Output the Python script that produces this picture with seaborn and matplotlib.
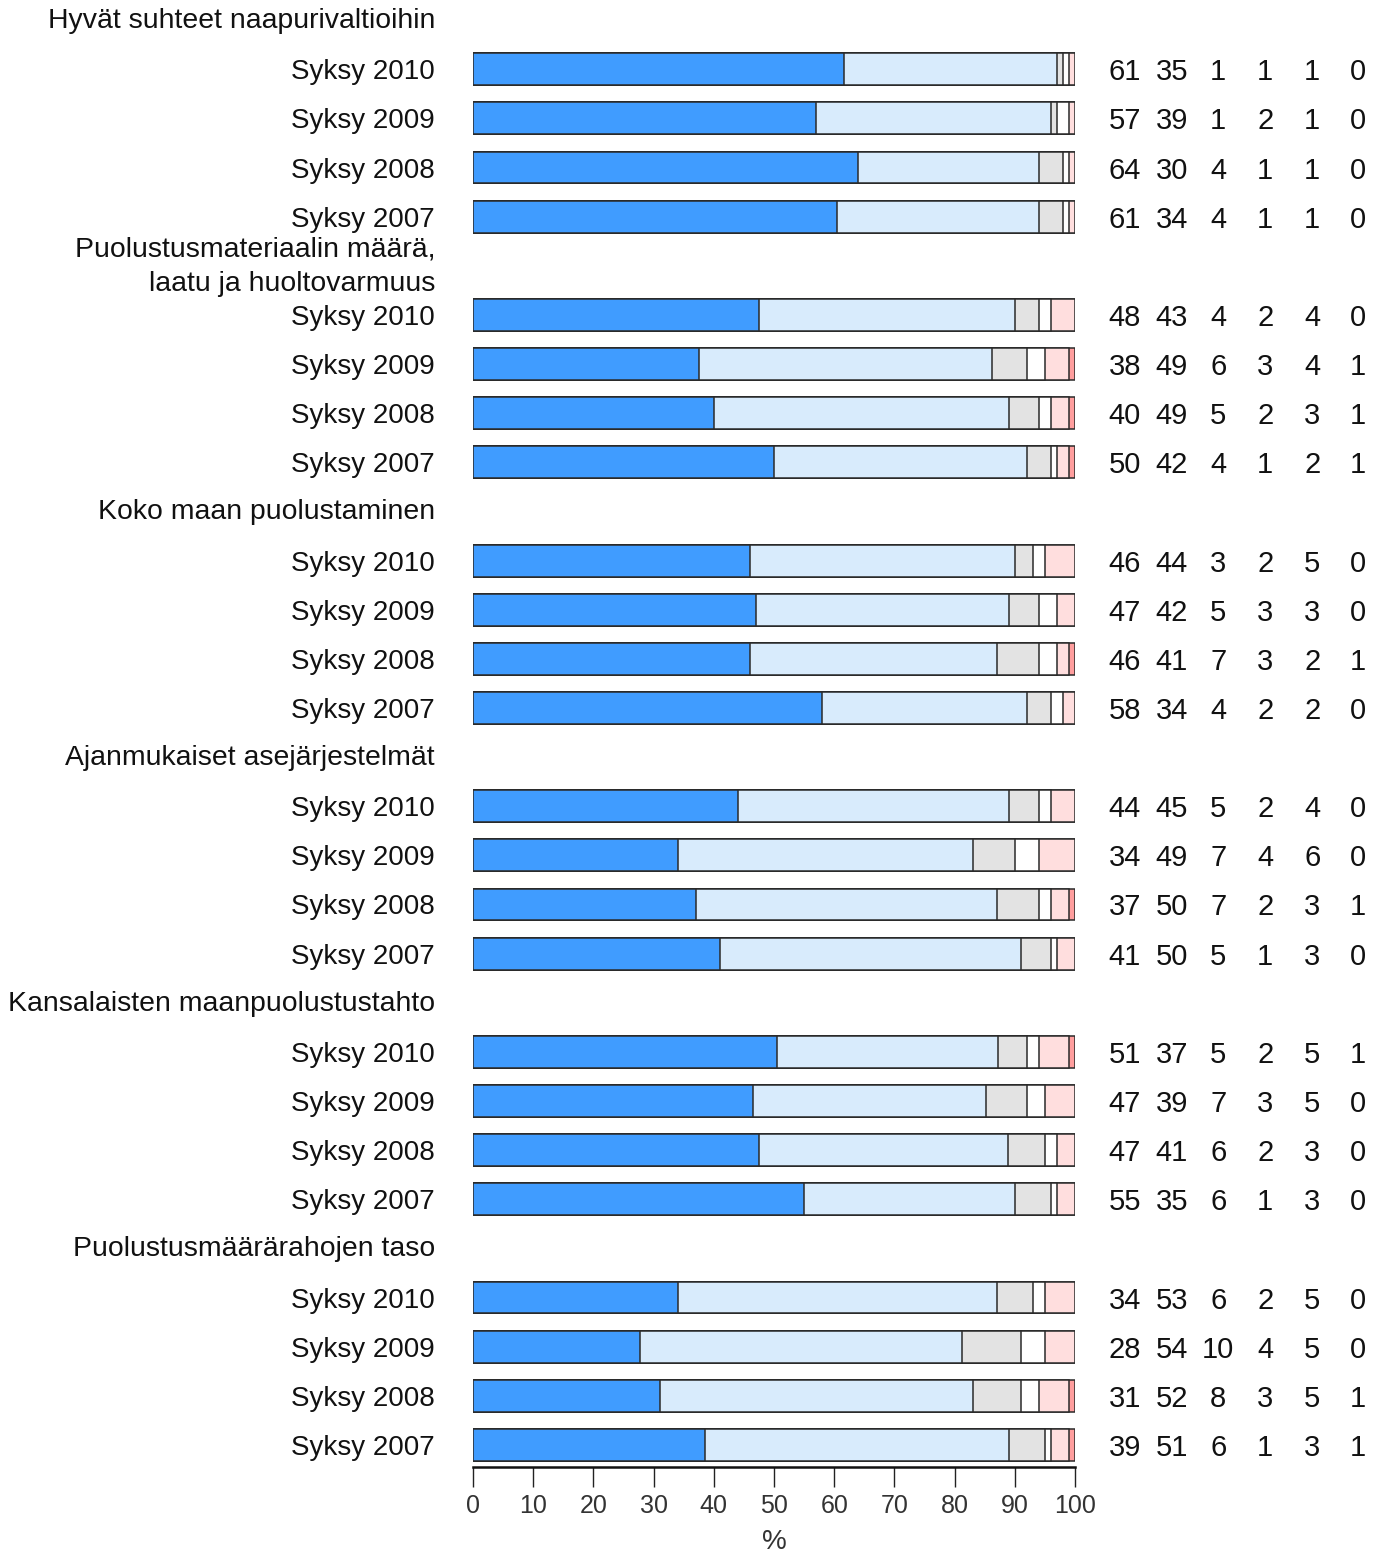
import numpy as np
import pandas as pd
import seaborn as sns
import matplotlib.pyplot as plt

sns.set_style('white')
plt.rcParams['font.family'] = ['Liberation Sans', 'DejaVu Sans']

groups = ['Hyvät suhteet naapurivaltioihin',
          'Puolustusmateriaalin määrä,\nlaatu ja huoltovarmuus',
          'Koko maan puolustaminen',
          'Ajanmukaiset asejärjestelmät',
          'Kansalaisten maanpuolustustahto',
          'Puolustusmäärärahojen taso']
years = ['Syksy 2010', 'Syksy 2009', 'Syksy 2008', 'Syksy 2007']

naapurit = [[61, 35, 1, 1, 1, 0], [57, 39, 1, 2, 1, 0],
            [64, 30, 4, 1, 1, 0], [61, 34, 4, 1, 1, 0]]
materiaali = [[48, 43, 4, 2, 4, 0], [38, 49, 6, 3, 4, 1],
              [40, 49, 5, 2, 3, 1], [50, 42, 4, 1, 2, 1]]
koko_maa = [[46, 44, 3, 2, 5, 0], [47, 42, 5, 3, 3, 0],
            [46, 41, 7, 3, 2, 1], [58, 34, 4, 2, 2, 0]]
asejarjestelmat = [[44, 45, 5, 2, 4, 0], [34, 49, 7, 4, 6, 0],
                   [37, 50, 7, 2, 3, 1], [41, 50, 5, 1, 3, 0]]
tahto = [[51, 37, 5, 2, 5, 1], [47, 39, 7, 3, 5, 0],
         [47, 41, 6, 2, 3, 0], [55, 35, 6, 1, 3, 0]]
maararahat = [[34, 53, 6, 2, 5, 0], [28, 54, 10, 4, 5, 0],
              [31, 52, 8, 3, 5, 1], [39, 51, 6, 1, 3, 1]]

all_values = [naapurit, materiaali, koko_maa, asejarjestelmat, tahto, maararahat]
colors = ['#409CFF', '#D8EBFC', '#E3E3E3', '#FFFFFF', '#FFDEDE', '#FF9E9E']

# long table: one row per bar, slot = vertical position
rows = []
for g, vals in enumerate(all_values):
    for r, v in enumerate(vals):
        v = np.array(v, dtype=float)
        pct = v / v.sum() * 100
        rows.append({'slot': g * 5 + r + 1, 'label': years[r], 'vals': list(v.astype(int)),
                     'cum': list(np.cumsum(pct))})
df = pd.DataFrame(rows)

W, H = 1385, 1556
fig = plt.figure(figsize=(W / 100, H / 100), dpi=100)
ax = fig.add_axes([473 / W, 1 - 1467 / H, (1075 - 473) / W, 1467 / H])

# stacked bars by overlaying cumulative sums, longest first
for k in range(5, -1, -1):
    d = pd.DataFrame({'slot': df['slot'], 'x': [c[k] for c in df['cum']]})
    sns.barplot(data=d, x='x', y='slot', orient='y', native_scale=True,
                color=colors[k], saturation=1, width=0.65,
                edgecolor='#2a2a2a', linewidth=1.1, ax=ax)

ax.set_xlim(0, 100)
ax.set_ylim(29.45, -0.41)
ax.set_yticks([])
ax.set_ylabel('')
for s in ['top', 'right', 'left']:
    ax.spines[s].set_visible(False)
ax.spines['bottom'].set_linewidth(1.8)
ax.spines['bottom'].set_color('#111111')
ax.set_xticks(range(0, 101, 10))
ax.tick_params(axis='x', direction='out', length=14.5, width=1, color='#222222',
               labelsize=18, labelcolor='#333333', pad=5, bottom=True)
ax.set_xlabel('%', fontsize=20, color='#333333', labelpad=8)

txt = '#111111'
label_x = (435 - 473) / 6.02
for g, name in enumerate(groups):
    ax.text(label_x, g * 5 + 0.02, name, ha='right', va='center', fontsize=20.4,
            color=txt, linespacing=1.4, clip_on=False)
num_x = [108.3, 116.1, 123.8, 131.6, 139.4, 147.0]
for _, row in df.iterrows():
    ax.text(label_x, row['slot'], row['label'], ha='right', va='center_baseline',
            fontsize=20, color=txt, clip_on=False)
    for x, v in zip(num_x, row['vals']):
        ax.text(x, row['slot'], str(v), ha='center', va='center_baseline',
                fontsize=21, color=txt, clip_on=False)

fig.savefig('out.png', dpi=100)
